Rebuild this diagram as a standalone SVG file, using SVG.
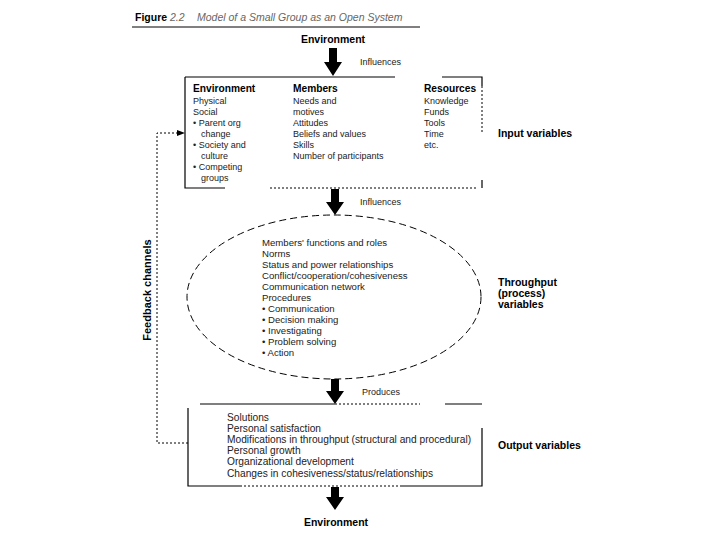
<svg xmlns="http://www.w3.org/2000/svg" width="720" height="540" viewBox="0 0 720 540">
<style>
text{font-family:"Liberation Sans",Arial,sans-serif;font-size:9px;fill:#222}
.b{font-weight:bold;fill:#000}
.h{font-size:10.2px}
.lbl{font-size:10.5px}
.e{font-size:9.6px}
.o{font-size:10.2px}
.t{font-size:10.5px;font-style:italic;fill:#666}
.s{stroke:#000;stroke-width:1.2;fill:none}
.d{stroke:#000;stroke-width:1;fill:none;stroke-dasharray:2 2}
.dl{stroke:#000;stroke-width:1;fill:none;stroke-dasharray:7 4}
.arr{fill:#000}
</style>
<defs>
<marker id="fb" markerWidth="8" markerHeight="6" refX="7" refY="3" orient="auto" markerUnits="userSpaceOnUse">
<path d="M0,0 L8,3 L0,6 Z" fill="#000"/>
</marker>
</defs>
<rect width="720" height="540" fill="#fff"/>
<g id="title">
<text x="135" y="21" class="b" style="font-size:10.5px">Figure</text>
<text x="170" y="21" class="t">2.2</text>
<text x="197" y="21" class="t">Model of a Small Group as an Open System</text>
<line x1="132" y1="27" x2="420" y2="27" stroke="#000" stroke-width="1"/>
</g>
<g id="env-top">
<text x="333" y="43" class="b lbl" text-anchor="middle">Environment</text>
</g>
<g id="input">
<path class="s" d="M185,77 H395 M442,77 H482 V86 M185,77 V188 H225"/>
<path class="d" d="M482,86 V134 M270,188 H478"/>
<path class="s" d="M482,180 V188"/>
<text x="193" y="92" class="b h">Environment</text>
<text x="193" y="104">Physical</text>
<text x="193" y="115">Social</text>
<text x="193" y="126">• Parent org</text>
<text x="201" y="137">change</text>
<text x="193" y="148">• Society and</text>
<text x="201" y="159">culture</text>
<text x="193" y="170">• Competing</text>
<text x="201" y="181">groups</text>
<text x="293" y="92" class="b h">Members</text>
<text x="293" y="104">Needs and</text>
<text x="293" y="115">motives</text>
<text x="293" y="126">Attitudes</text>
<text x="293" y="137">Beliefs and values</text>
<text x="293" y="148">Skills</text>
<text x="293" y="159">Number of participants</text>
<text x="424" y="92" class="b h">Resources</text>
<text x="424" y="104">Knowledge</text>
<text x="424" y="115">Funds</text>
<text x="424" y="126">Tools</text>
<text x="424" y="137">Time</text>
<text x="424" y="148">etc.</text>
<text x="498" y="137" class="b lbl">Input variables</text>
</g>
<g id="throughput">
<ellipse cx="334" cy="297" rx="147" ry="82" class="dl"/>
<text x="262" y="246" class="e">Members' functions and roles</text>
<text x="262" y="257" class="e">Norms</text>
<text x="262" y="268" class="e">Status and power relationships</text>
<text x="262" y="279" class="e">Conflict/cooperation/cohesiveness</text>
<text x="262" y="290" class="e">Communication network</text>
<text x="262" y="301" class="e">Procedures</text>
<text x="262" y="312" class="e">• Communication</text>
<text x="262" y="323" class="e">• Decision making</text>
<text x="262" y="334" class="e">• Investigating</text>
<text x="262" y="345" class="e">• Problem solving</text>
<text x="262" y="356" class="e">• Action</text>
<text x="498" y="286" class="b lbl">Throughput</text>
<text x="498" y="297" class="b lbl">(process)</text>
<text x="498" y="308" class="b lbl">variables</text>
</g>
<g id="output">
<path class="s" d="M200,404 H335 M445,404 H482 M188,408 V486 H240 M400,486 H482 V428"/>
<path class="d" d="M335,404 H420 M240,486 H400"/>
<text x="227" y="421" class="o">Solutions</text>
<text x="227" y="432" class="o">Personal satisfaction</text>
<text x="227" y="443" class="o">Modifications in throughput (structural and procedural)</text>
<text x="227" y="454" class="o">Personal growth</text>
<text x="227" y="465" class="o">Organizational development</text>
<text x="227" y="477" class="o">Changes in cohesiveness/status/relationships</text>
<text x="498" y="449" class="b lbl">Output variables</text>
</g>
<g id="env-bottom">
<text x="336" y="526" class="b lbl" text-anchor="middle">Environment</text>
</g>
<g id="feedback">
<text class="b lbl" transform="translate(151,290) rotate(-90)" text-anchor="middle" style="font-size:11px">Feedback channels</text>
</g>
<g id="connectors">
<path class="arr" d="M329,48 H337 V62 H342 L333,76 L324,62 H329 Z"/>
<text x="360" y="65">Influences</text>
<path class="arr" d="M331,189 H339 V202 H344 L335,215 L326,202 H331 Z"/>
<text x="360" y="205">Influences</text>
<path class="arr" d="M331,379 H339 V391 H344 L335,404 L326,391 H331 Z"/>
<text x="362" y="395">Produces</text>
<path class="arr" d="M331,487 H339 V497 H344 L335,510 L326,497 H331 Z"/>
<path class="d" d="M188,443 H157 V133 H184" marker-end="url(#fb)"/>
</g>
</svg>
